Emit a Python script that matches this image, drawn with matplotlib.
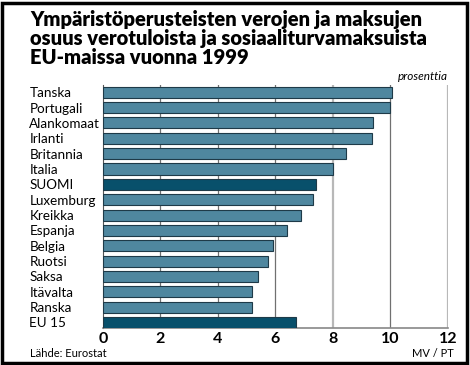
import matplotlib
matplotlib.use("Agg")
import matplotlib.pyplot as plt
from matplotlib.patches import Rectangle

plt.rcParams['font.family'] = ['Lato', 'DejaVu Sans']

# Data
countries = ['Tanska', 'Portugali', 'Alankomaat', 'Irlanti', 'Britannia', 'Italia',
             'SUOMI', 'Luxemburg', 'Kreikka', 'Espanja', 'Belgia', 'Ruotsi',
             'Saksa', 'Itävalta', 'Ranska', 'EU 15']
values = [10.05, 10.0, 9.4, 9.37, 8.45, 8.0, 7.42, 7.32, 6.9, 6.4, 5.9, 5.75,
          5.4, 5.2, 5.17, 6.72]
highlight = ['SUOMI', 'EU 15']
xticks = [0, 2, 4, 6, 8, 10, 12]

title = ("Ympäristöperusteisten verojen ja maksujen\n"
         "osuus verotuloista ja sosiaaliturvamaksuista\n"
         "EU-maissa vuonna 1999")

fig = plt.figure(figsize=(4.7, 3.65), dpi=100)
ax = fig.add_axes([0.219, 0.101, 0.734, 0.666])

colors = ['#08506b' if c in highlight else '#4f879f' for c in countries]
ax.barh(range(len(countries)), values, height=0.72, color=colors,
        edgecolor='#1e3a48', linewidth=0.8, zorder=3)

# vertical grid lines, alternating shades like the original
for x in xticks[1:]:
    if x in (8, 12):
        ax.axvline(x, color='#b8b8b8', linewidth=1.6, zorder=1)
    else:
        ax.axvline(x, color='#707070', linewidth=0.9, zorder=1)

ax.set_xlim(0, 12)
ax.set_ylim(15.37, -0.47)
ax.set_xticks(xticks)
ax.set_xticklabels([str(x) for x in xticks], fontsize=11.5, fontweight='bold')
ax.tick_params(axis='x', length=0, pad=3)
ax.set_yticks(range(len(countries)))
ax.set_yticklabels(countries, fontsize=9.7, ha='left')
ax.tick_params(axis='y', length=0, pad=53)

for s in ['top', 'right']:
    ax.spines[s].set_visible(False)
ax.spines['left'].set_color('#555555')
ax.spines['bottom'].set_color('#888888')
ax.spines['bottom'].set_linewidth(1.2)

fig.text(0.064, 0.972, title, fontsize=14.5, fontweight='heavy',
         va='top', ha='left', linespacing=0.98)
fig.text(0.952, 0.78, 'prosenttia', fontsize=8.5, style='italic', ha='right')
fig.text(0.064, 0.022, 'Lähde: Eurostat', fontsize=8)
fig.text(0.965, 0.022, 'MV / PT', fontsize=8, ha='right')

# outer frame
fig.patches.append(Rectangle((0.004, 0.006), 0.99, 0.985, transform=fig.transFigure,
                             fill=False, edgecolor='black', linewidth=2.5))

fig.savefig('out.png', dpi=100)
